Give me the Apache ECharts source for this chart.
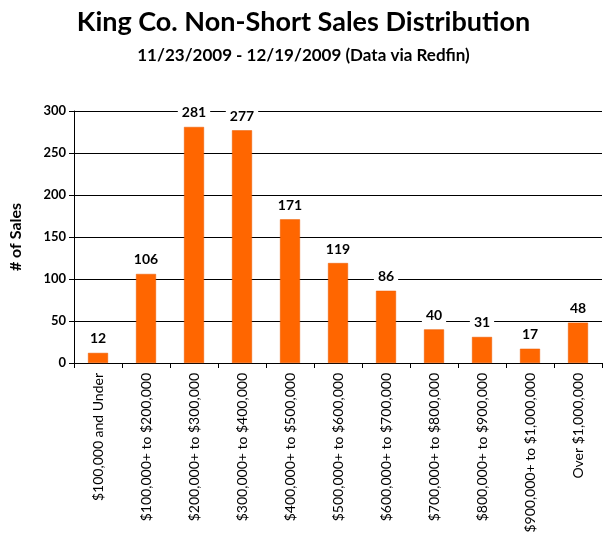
<!DOCTYPE html>
<html><head><meta charset="utf-8">
<script src="https://cdn.jsdelivr.net/npm/echarts@6/dist/echarts.min.js"></script>
<style>html,body{margin:0;padding:0;background:#fff}#c{width:607px;height:543px}</style>
</head><body><div id="c"></div>
<script>
const categories = ["$100,000 and Under","$100,000+ to $200,000","$200,000+ to $300,000","$300,000+ to $400,000","$400,000+ to $500,000","$500,000+ to $600,000","$600,000+ to $700,000","$700,000+ to $800,000","$800,000+ to $900,000","$900,000+ to $1,000,000","Over $1,000,000"];
const sales = [12,106,281,277,171,119,86,40,31,17,48];
const titleText = "King Co. Non-Short Sales Distribution";
const subtitleText = "11/23/2009 - 12/19/2009 (Data via Redfin)";
const yName = "# of Sales";
const F = "Lato, 'Open Sans', sans-serif";
const chart = echarts.init(document.getElementById('c'));
chart.setOption({
  animation:false,
  backgroundColor:'#fff',
  title:[{text:titleText,left:'center',top:4,textStyle:{fontFamily:F,fontSize:27,fontWeight:'bold',color:'#000'}},
         {text:subtitleText,left:'center',top:42,textStyle:{fontFamily:F,fontSize:17,fontWeight:'bold',color:'#000'}}],
  grid:{left:66,right:5,top:111,bottom:180,containLabel:false},
  xAxis:{type:'category',data:categories,
    axisLine:{lineStyle:{color:'#000',width:1}},
    axisTick:{show:true,length:5,lineStyle:{color:'#000'}},
    axisLabel:{rotate:90,interval:0,margin:10,fontFamily:F,fontSize:14,color:'#000'}},
  yAxis:{type:'value',min:0,max:300,interval:50,name:yName,nameLocation:'middle',nameGap:50,
    nameTextStyle:{fontFamily:F,fontSize:16,fontWeight:'bold',color:'#000'},
    axisLine:{show:true,lineStyle:{color:'#000'}},
    axisTick:{show:true,length:5,lineStyle:{color:'#000'}},
    splitLine:{lineStyle:{color:'#000',width:1}},
    axisLabel:{fontFamily:F,fontSize:13,fontWeight:'bold',color:'#000',margin:8}},
  series:[{type:'bar',data:sales,barWidth:20,
    itemStyle:{color:'#ff6600',borderColor:'#e85a00',borderWidth:0.5},
    label:{show:true,position:'top',distance:5,fontFamily:F,fontSize:14,fontWeight:'bold',color:'#000',
      backgroundColor:'#fff',padding:[2,4]}}]
});
</script></body></html>
